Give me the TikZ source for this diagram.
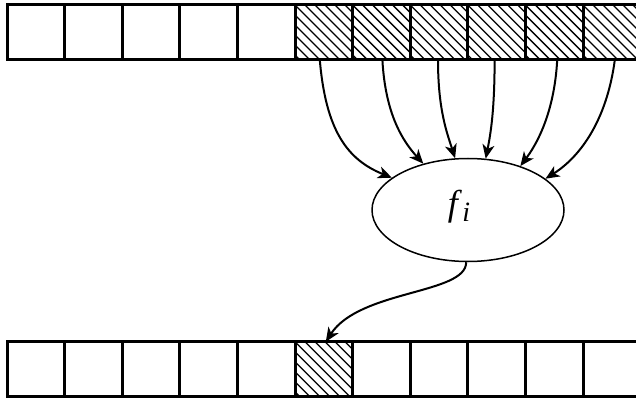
\documentclass[tikz,border=0pt]{standalone}
\usepackage{fontspec}
\setmainfont{Liberation Serif}
\usetikzlibrary{shapes.geometric,arrows.meta}
\begin{document}
\begin{tikzpicture}[x=1pt,y=1pt,
  cell/.style={draw, line width=3pt, minimum width=57.6pt, minimum height=55pt,
    inner sep=0pt, outer sep=0pt},
  hatched/.style={cell, path picture={
    \foreach \d in {0,10,...,120}
      \draw[line width=1.3pt] ([xshift={(\d-60)*1pt}]path picture bounding box.north west) -- ++(70,-70);}},
  feed/.style={line width=2pt, -{Stealth[length=14pt,width=12pt,inset=4pt]}}
]
\useasboundingbox (0,0) rectangle (636,399);

% input row: first five plain, the rest hatched
\foreach \k in {1,...,5}
  \node[cell] (t\k) at ({7+57.6*(\k-0.5)},366.5) {};
\foreach \k in {6,...,11}
  \node[hatched] (t\k) at ({7+57.6*(\k-0.5)},366.5) {};

% output row: only the sixth cell is hatched
\foreach \k in {1,...,5,7,8,9,10,11}
  \node[cell, minimum height=54.3pt] (b\k) at ({7+57.6*(\k-0.5)},30.15) {};
\node[hatched, minimum height=54.3pt] (b6) at ({7+57.6*5.5},30.15) {};

% the function
\node[draw, ellipse, line width=1.5pt, minimum width=192pt, minimum height=103pt,
  inner sep=0pt] (f) at (468,189) {};
\node[inner sep=0pt] (fl) at (459,192)
  {\fontsize{36}{36}\selectfont\textit{f}\kern0.5pt\raisebox{-6pt}{\fontsize{28}{28}\selectfont\textit{i}}};

% inputs gathered into f
\draw[feed] ([xshift=-4pt]t6.south) .. controls +(6,-70) and +(-45,18) .. (f.157);
\draw[feed] ([xshift=1pt]t7.south) .. controls +(3,-55) and +(-20,22) .. (f.134);
\draw[feed] ([xshift=-1pt]t8.south) .. controls +(0,-50) and +(-8,25) .. (f.104);
\draw[feed] ([xshift=-2pt]t9.south) .. controls +(0,-50) and +(5,25) .. (f.71);
\draw[feed] ([xshift=3pt]t10.south) .. controls +(-3,-55) and +(15,20) .. (f.40);
\draw[feed] ([xshift=3pt]t11.south) .. controls +(-8,-60) and +(35,22) .. (f.22);

% result written to the output cell
\draw[feed] (f.-92) .. controls +(0,-32) and +(34,52) .. ([xshift=2pt]b6.north);
\end{tikzpicture}
\end{document}
